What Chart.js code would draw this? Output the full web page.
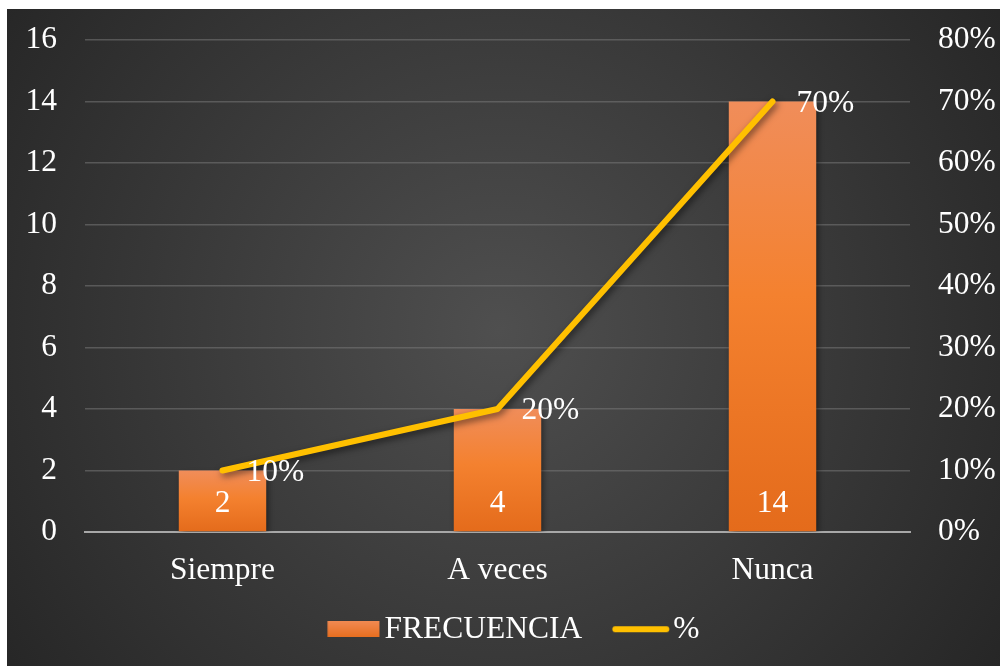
<!DOCTYPE html>
<html><head><meta charset="utf-8">
<script src="https://cdn.jsdelivr.net/npm/chart.js@4"></script>
<style>html,body{margin:0;padding:0;background:#fff;overflow:hidden}#wrap{width:1000px;height:666px;position:relative}</style>
</head><body><div id="wrap"><canvas id="c" width="1000" height="666"></canvas></div>
<script>
const categories = ['Siempre', 'A veces', 'Nunca'];
const frecuencia = [2, 4, 14];
const porcentaje = [10, 20, 70];
const seriesNames = ['FRECUENCIA', '%'];
const leftMax = 16, leftStep = 2;
const rightMax = 80, rightStep = 10;

const FONT = "'Liberation Serif', 'Times New Roman', serif";
const FS = 31.5;
const WHITE = '#ffffff';
const LINE_COLOR = '#FFC000';

function barGradient(ctx, top, bottom) {
  const g = ctx.createLinearGradient(0, top, 0, bottom);
  g.addColorStop(0, '#F08D5A');
  g.addColorStop(0.45, '#F4812F');
  g.addColorStop(1, '#E46B1B');
  return g;
}

// legend pictures: common box width LW; visible mark starts at s (relative to item x)
const LW = 20 + 52 + 5 - FS / 2;
function legendCanvas(s, B, h, drawFn) {
  const c0 = LW / 2;
  const half = Math.ceil(Math.max(c0 - s, s + B - c0));
  const left = c0 - half;
  const cv = document.createElement('canvas');
  cv.width = 2 * half; cv.height = h;
  drawFn(cv.getContext('2d'), s - left, B, h);
  return cv;
}
const lgBar = legendCanvas(20, 52, 16, (c, off, B, h) => {
  const g = c.createLinearGradient(0, 0, 0, h);
  g.addColorStop(0, '#F18A52'); g.addColorStop(1, '#E76E1F');
  c.fillStyle = g;
  c.fillRect(off, 0, B, h);
});
const lgLine = legendCanvas(LW + FS / 2 - 4 - 57, 57, 10, (c, off, B, h) => {
  c.strokeStyle = LINE_COLOR; c.lineWidth = 6; c.lineCap = 'round';
  c.beginPath();
  c.moveTo(off + 3, h / 2);
  c.lineTo(off + B - 3, h / 2);
  c.stroke();
});
const legendPad = 30 - (LW + FS / 2 - 4 - 57);

const bgPlugin = {
  id: 'bg',
  beforeDraw(chart) {
    const c = chart.ctx;
    c.save();
    c.fillStyle = '#ffffff';
    c.fillRect(0, 0, chart.width, chart.height);
    const g = c.createRadialGradient(500, 330, 0, 500, 330, 620);
    g.addColorStop(0, '#4f4f4f');
    g.addColorStop(1, '#252525');
    c.fillStyle = g;
    c.fillRect(7, 9, chart.width - 7, chart.height - 9);
    c.restore();
  }
};

const shadowPlugin = {
  id: 'shadow',
  beforeDatasetDraw(chart) {
    const c = chart.ctx;
    c.save();
    c.shadowColor = 'rgba(0,0,0,0.55)';
    c.shadowBlur = 7;
    c.shadowOffsetX = 2;
    c.shadowOffsetY = 3;
  },
  afterDatasetDraw(chart) {
    chart.ctx.restore();
  }
};

const labelPlugin = {
  id: 'vlabels',
  afterDatasetsDraw(chart) {
    const c = chart.ctx;
    c.save();
    c.font = FS + 'px ' + FONT;
    c.fillStyle = WHITE;
    c.textBaseline = 'middle';
    const yBase = chart.scales.y.getPixelForValue(0);
    const barMeta = chart.getDatasetMeta(1);
    c.textAlign = 'center';
    barMeta.data.forEach((el, i) => {
      c.fillText(String(chart.data.datasets[1].data[i]), el.x, yBase - 28.5);
    });
    const lineMeta = chart.getDatasetMeta(0);
    c.textAlign = 'left';
    lineMeta.data.forEach((el, i) => {
      c.fillText(chart.data.datasets[0].data[i] + '%', el.x + 24, el.y + 2);
    });
    c.restore();
  }
};

function vFit(width) {
  return function (s) { s.width = width; s.paddingTop = 0; s.paddingBottom = 0; };
}

new Chart(document.getElementById('c'), {
  type: 'bar',
  data: {
    labels: categories,
    datasets: [
      {
        type: 'line',
        label: seriesNames[1],
        data: porcentaje,
        yAxisID: 'y1',
        borderColor: LINE_COLOR,
        backgroundColor: LINE_COLOR,
        borderWidth: 6,
        borderCapStyle: 'round',
        borderJoinStyle: 'round',
        pointRadius: 0,
        tension: 0,
        order: 0
      },
      {
        type: 'bar',
        label: seriesNames[0],
        data: frecuencia,
        yAxisID: 'y',
        backgroundColor(ctx) {
          const chart = ctx.chart;
          if (!chart.chartArea || ctx.dataIndex === undefined) return '#F08030';
          const ys = chart.scales.y;
          const v = ctx.dataset.data[ctx.dataIndex];
          return barGradient(chart.ctx, ys.getPixelForValue(v), ys.getPixelForValue(0));
        },
        borderWidth: 0,
        categoryPercentage: 1,
        barPercentage: 0.318,
        order: 1
      }
    ]
  },
  options: {
    responsive: false,
    devicePixelRatio: 1,
    animation: false,
    layout: { padding: { left: 7, top: 40, right: 0, bottom: 11 } },
    font: { family: FONT, size: FS },
    plugins: {
      tooltip: { enabled: false },
      legend: {
        position: 'bottom',
        labels: {
          color: WHITE,
          font: { family: FONT, size: FS },
          usePointStyle: true,
          pointStyleWidth: LW,
          padding: legendPad,
          generateLabels(chart) {
            return [
              { text: chart.data.datasets[1].label, pointStyle: lgBar, fontColor: WHITE, datasetIndex: 1, hidden: false, lineWidth: 0 },
              { text: chart.data.datasets[0].label, pointStyle: lgLine, fontColor: WHITE, datasetIndex: 0, hidden: false, lineWidth: 0 }
            ];
          }
        }
      }
    },
    scales: {
      x: {
        grid: { display: false },
        border: { display: true, color: '#a8a8a8', width: 2 },
        ticks: { color: WHITE, font: { family: FONT, size: FS }, padding: 12, maxRotation: 0 },
        afterFit(s) { s.height = 67.5; }
      },
      y: {
        position: 'left',
        min: 0, max: leftMax,
        ticks: { stepSize: leftStep, color: WHITE, font: { family: FONT, size: FS }, padding: 28 },
        grid: { color: 'rgba(120,120,120,0.55)', lineWidth: 1.5, drawTicks: false },
        border: { display: false },
        afterFit: vFit(78)
      },
      y1: {
        position: 'right',
        min: 0, max: rightMax,
        ticks: { stepSize: rightStep, color: WHITE, font: { family: FONT, size: FS }, padding: 28, callback: v => v + '%' },
        grid: { display: false, drawTicks: false },
        border: { display: false },
        afterFit: vFit(90)
      }
    }
  },
  plugins: [bgPlugin, shadowPlugin, labelPlugin]
});
</script>
</body></html>
